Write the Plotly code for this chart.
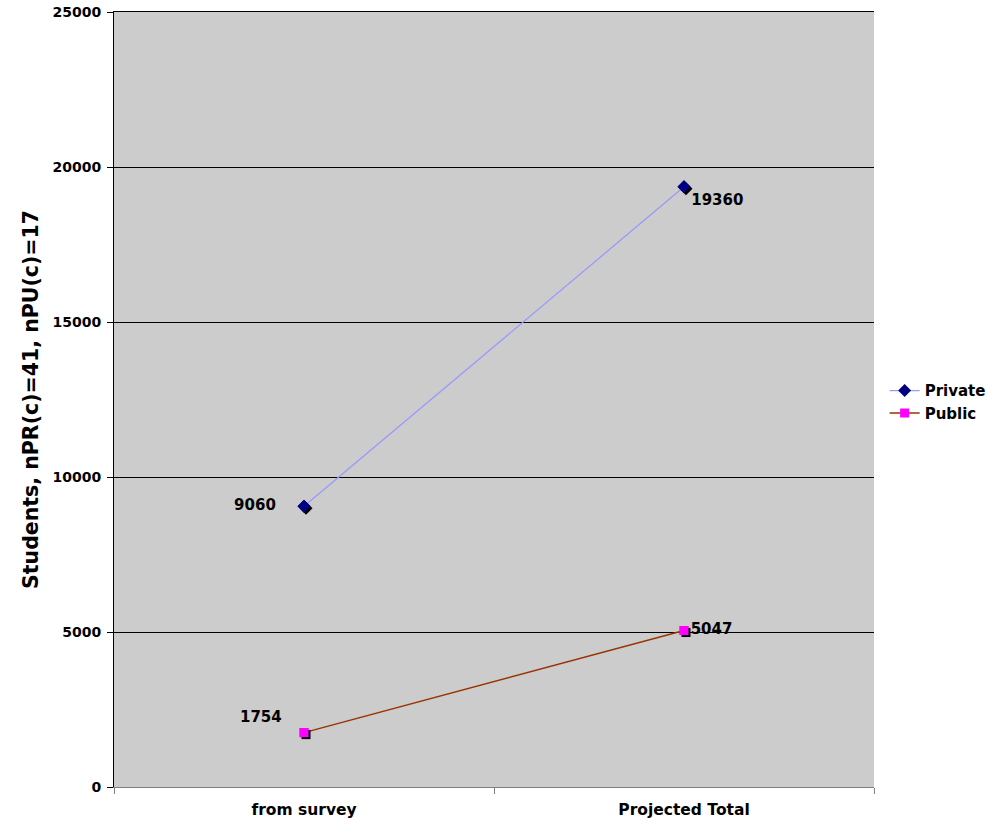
import plotly.graph_objects as go

categories = ["from survey", "Projected Total"]
private_values = [9060, 19360]
public_values = [1754, 5047]
y_ticks = [0, 5000, 10000, 15000, 20000, 25000]

FONT = "DejaVu Sans"
W, H = 988, 821
L, R, T, B = 114, 114, 12, 34
plot_w = W - L - R
plot_h = H - T - B
ymax = 25000
# shadow offsets (pixels) converted to data units
dx = 2 / (plot_w / 2)
dy = 2 / (plot_h / ymax)

fig = go.Figure()

# main series: lines, markers, labels, legend
fig.add_trace(go.Scatter(
    x=[0, 1], y=private_values, name="Private", mode="lines+markers+text",
    line=dict(color="#9999FF", width=1.3),
    marker=dict(symbol="diamond", size=10, color="#000080"),
    text=[f"{private_values[0]}    ", f"{private_values[1]}"],
    textposition=["middle left", "bottom right"],
    textfont=dict(family=FONT, size=15, color="black", weight="bold"),
))
fig.add_trace(go.Scatter(
    x=[0, 1], y=public_values, name="Public", mode="lines+markers+text",
    line=dict(color="#993300", width=1.5),
    marker=dict(symbol="square", size=9, color="#FF00FF"),
    text=[f"{public_values[0]}   ", f"{public_values[1]}"],
    textposition=["top left", "middle right"],
    textfont=dict(family=FONT, size=15, color="black", weight="bold"),
))

# marker shadows (on a slightly shifted overlay)
fig.add_trace(go.Scatter(x=[0, 1], y=private_values, mode="markers", xaxis="x2", yaxis="y2",
                         marker=dict(symbol="diamond", size=10, color="black"),
                         showlegend=False, hoverinfo="skip"))
fig.add_trace(go.Scatter(x=[0, 1], y=public_values, mode="markers", xaxis="x2", yaxis="y2",
                         marker=dict(symbol="square", size=9, color="black"),
                         showlegend=False, hoverinfo="skip"))

# coloured markers again, on top of the shadows
fig.add_trace(go.Scatter(x=[0, 1], y=private_values, mode="markers", xaxis="x3", yaxis="y3",
                         marker=dict(symbol="diamond", size=10, color="#000080"),
                         showlegend=False, hoverinfo="skip"))
fig.add_trace(go.Scatter(x=[0, 1], y=public_values, mode="markers", xaxis="x3", yaxis="y3",
                         marker=dict(symbol="square", size=9, color="#FF00FF"),
                         showlegend=False, hoverinfo="skip"))

fig.update_layout(
    width=W, height=H,
    margin=dict(l=L, r=R, t=T, b=B, autoexpand=False),
    paper_bgcolor="white",
    plot_bgcolor="#CCCCCC",
    font=dict(family=FONT, color="black"),
    showlegend=True,
    legend=dict(x=1.014, y=0.497, xanchor="left", yanchor="middle",
                font=dict(family=FONT, size=15, color="black", weight="bold"),
                bgcolor="rgba(0,0,0,0)", tracegroupgap=2),
    xaxis=dict(range=[-0.5, 1.5], tickvals=[0, 1], ticktext=categories, automargin=False,
               showgrid=False, zeroline=False, showline=True, linecolor="#808080", linewidth=1,
               ticks="", tickfont=dict(family=FONT, size=15.5, weight="bold"),
               ticklabelstandoff=8,
               minor=dict(tickvals=[-0.5, 0.5, 1.5], ticks="outside", ticklen=6, tickcolor="#808080")),
    yaxis=dict(range=[0, ymax], tickvals=y_ticks, ticktext=[str(v) for v in y_ticks], automargin=False,
               showgrid=True, gridcolor="black", gridwidth=1, zeroline=False,
               showline=True, linecolor="black", linewidth=1,
               ticks="outside", ticklen=6, tickcolor="black",
               ticklabeloverflow="allow", ticklabelstandoff=3,
               tickfont=dict(family=FONT, size=14, weight="bold"),
               title=dict(text="Students, nPR(c)=41, nPU(c)=17", standoff=8,
                          font=dict(family=FONT, size=20.5, weight="bold"))),
    xaxis2=dict(range=[-0.5 - dx, 1.5 - dx], overlaying="x", visible=False),
    yaxis2=dict(range=[dy, ymax + dy], overlaying="y", visible=False),
    # top overlay axis: only its line is shown, as the top gridline at 25000
    xaxis3=dict(range=[-0.5, 1.5], overlaying="x", side="top", visible=True,
                showline=True, linecolor="black", linewidth=1, showgrid=False,
                zeroline=False, showticklabels=False, ticks=""),
    yaxis3=dict(range=[0, ymax], overlaying="y", visible=False),
)

# remove the default 8px page margin so the figure fills the window exactly
fig.write_html("out.html", config={"displayModeBar": False},
               post_script="document.body.style.margin='0';")
